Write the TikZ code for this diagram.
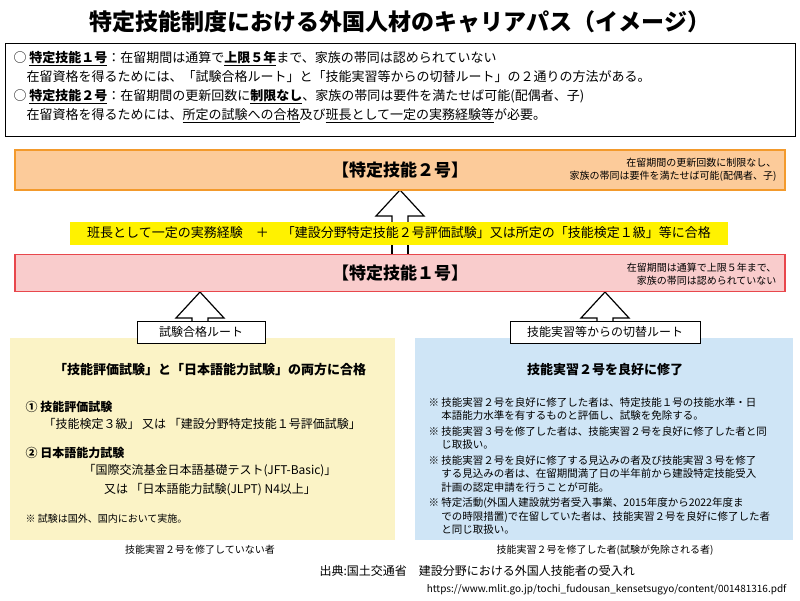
\documentclass[tikz,border=0pt]{standalone}
\usepackage{fontspec}
\setmainfont{Noto Sans CJK JP}
\usepackage{tikz}
\definecolor{orangebox}{HTML}{FCCB9A}
\definecolor{orangeline}{HTML}{F39A2C}
\definecolor{pinkbox}{HTML}{F9CCCC}
\definecolor{redline}{HTML}{E8474C}
\definecolor{creampanel}{HTML}{FBF3C6}
\definecolor{bluepanel}{HTML}{CFE5F6}
\tikzset{
  hollow arrow/.style={draw=black, line width=1.2pt, fill=white},
  route/.style={draw=black, fill=white, line width=0.6pt, minimum height=22pt, font=\fontsize{12}{14}\selectfont},
  note/.style={align=left, anchor=north west, font=\fontsize{10.5}{13.5}\selectfont},
  small/.style={font=\fontsize{10}{13}\selectfont}
}
\begin{document}
\begin{tikzpicture}[x=1pt,y=-1pt]
\useasboundingbox (0,0) rectangle (800,600);
\node (P0) at (400,22) {\fontsize{23}{25}\selectfont\bfseries 特定技能制度における外国人材のキャリアパス（イメージ）};
\draw[line width=0.8pt] (5,43) rectangle (795,136);
\node[note, font=\fontsize{13}{19}\selectfont] (P1) at (10,48) {○ \underline{\textbf{特定技能１号}}：在留期間は通算で\underline{\textbf{上限５年}}まで、家族の帯同は認められていない\\
\quad 在留資格を得るためには、「試験合格ルート」と「技能実習等からの切替ルート」の２通りの方法がある。\\
○ \underline{\textbf{特定技能２号}}：在留期間の更新回数に\underline{\textbf{制限なし}}、家族の帯同は要件を満たせば可能(配偶者、子)\\
\quad 在留資格を得るためには、\underline{所定の試験への合格}及び\underline{班長として一定の実務経験等}が必要。};
% arrows behind the boxes
\draw[hollow arrow] (400,190) -- (424,216) -- (408,216) -- (408,262) -- (392,262) -- (392,216) -- (376,216) -- cycle;
\draw[hollow arrow] (200,292) -- (224,318) -- (208,318) -- (208,322) -- (192,322) -- (192,318) -- (176,318) -- cycle;
\draw[hollow arrow] (605,292) -- (629,318) -- (613,318) -- (613,322) -- (597,322) -- (597,318) -- (581,318) -- cycle;
% level boxes
\node[draw=orangeline, fill=orangebox, line width=1.5pt, minimum width=770pt, minimum height=40pt] (P2) at (400,170) {};
\node at (400,170) {\fontsize{17}{20}\selectfont\bfseries 【特定技能２号】};
\node[small, align=right, anchor=east] (P3) at (780,170) {在留期間の更新回数に制限なし、\\家族の帯同は要件を満たせば可能(配偶者、子)};
\node[fill=yellow, minimum width=658pt, minimum height=23pt, font=\fontsize{13}{15}\selectfont] (P4) at (399,233) {班長として一定の実務経験\quad ＋\quad 「建設分野特定技能２号評価試験」又は所定の「技能検定１級」等に合格};
\draw[hollow arrow] (392,245) -- (392,255) -- (408,255) -- (408,245);
\node[draw=redline, fill=pinkbox, line width=1.5pt, minimum width=770pt, minimum height=37pt] (P5) at (400,273) {};
\node at (400,273) {\fontsize{17}{20}\selectfont\bfseries 【特定技能１号】};
\node[small, align=right, anchor=east] (P6) at (780,274) {在留期間は通算で上限５年まで、\\家族の帯同は認められていない};
% panels
\fill[creampanel] (10,338) rectangle (395,540);
\fill[bluepanel] (415,338) rectangle (793,540);
\node[route, minimum width=128pt] (R1) at (201,332) {試験合格ルート};
\node[route, minimum width=190pt] (R2) at (605,332) {技能実習等からの切替ルート};
\node (L0) at (210,370) {\fontsize{13}{15}\selectfont\bfseries 「技能評価試験」と「日本語能力試験」の両方に合格};
\node[anchor=west, font=\fontsize{12}{14}\selectfont\bfseries] (L1) at (22,407) {① 技能評価試験};
\node[anchor=west, font=\fontsize{12}{14}\selectfont] (L2) at (40,424) {「技能検定３級」 又は 「建設分野特定技能１号評価試験」};
\node[anchor=west, font=\fontsize{12}{14}\selectfont\bfseries] (L3) at (22,453) {② 日本語能力試験};
\node[font=\fontsize{12}{14}\selectfont] (L4) at (210,471) {「国際交流基金日本語基礎テスト(JFT-Basic)」};
\node[font=\fontsize{12}{14}\selectfont] (L5) at (210,490) {又は 「日本語能力試験(JLPT) N4以上」};
\node[anchor=west, small] (L6) at (22,519) {※ 試験は国外、国内において実施。};
\node[small] (L7) at (200,550) {技能実習２号を修了していない者};
\node (B0) at (605,370) {\fontsize{13}{15}\selectfont\bfseries 技能実習２号を良好に修了};
\node[note] (B1) at (425,394) {※ 技能実習２号を良好に修了した者は、特定技能１号の技能水準・日\\
\phantom{※ }本語能力水準を有するものと評価し、試験を免除する。\\[2pt]
※ 技能実習３号を修了した者は、技能実習２号を良好に修了した者と同\\
\phantom{※ }じ取扱い。\\[2pt]
※ 技能実習２号を良好に修了する見込みの者及び技能実習３号を修了\\
\phantom{※ }する見込みの者は、在留期間満了日の半年前から建設特定技能受入\\
\phantom{※ }計画の認定申請を行うことが可能。\\[2pt]
※ 特定活動(外国人建設就労者受入事業、2015年度から2022年度ま\\
\phantom{※ }での時限措置)で在留していた者は、技能実習２号を良好に修了した者\\
\phantom{※ }と同じ取扱い。};
\node[small] (B2) at (605,550) {技能実習２号を修了した者(試験が免除される者)};
\node[anchor=west, font=\fontsize{12}{14}\selectfont] (S0) at (316,571) {出典:国土交通省\quad 建設分野における外国人技能者の受入れ};
\node[anchor=east, small] (S1) at (790,590) {https://www.mlit.go.jp/tochi\_fudousan\_kensetsugyo/content/001481316.pdf};
\end{tikzpicture}
\end{document}
